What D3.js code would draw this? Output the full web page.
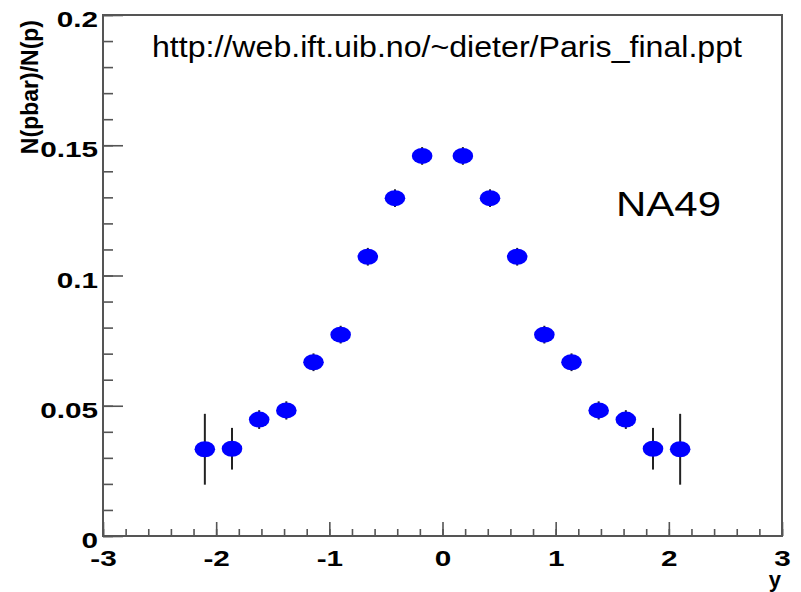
<!DOCTYPE html>
<html>
<head>
<meta charset="utf-8">
<script src="https://cdn.jsdelivr.net/npm/d3@7/dist/d3.min.js"></script>
<style>
  html, body { margin: 0; padding: 0; background: #fff; }
  svg { display: block; }
  text { font-family: "Liberation Sans", Arial, Helvetica, sans-serif; }
</style>
</head>
<body>
<svg id="chart" width="801" height="592"></svg>
<script>
// Antiproton / proton ratio versus rapidity (NA49)
const rapidity = [-2.10, -1.86, -1.62, -1.38, -1.14, -0.90, -0.66, -0.42, -0.18,
                   0.18,  0.42,  0.66,  0.90,  1.14,  1.38,  1.62,  1.86,  2.10];
const ratio    = [0.0333, 0.0335, 0.0447, 0.0482, 0.0667, 0.0773, 0.1072, 0.1297, 0.1459,
                  0.1459, 0.1297, 0.1072, 0.0773, 0.0667, 0.0482, 0.0447, 0.0335, 0.0333];
const ratioErr = [0.0136, 0.0080, 0.0036, 0.0035, 0.0034, 0.0034, 0.0034, 0.0034, 0.0034,
                  0.0034, 0.0034, 0.0034, 0.0034, 0.0034, 0.0035, 0.0036, 0.0080, 0.0136];

const xMajorTicks = [-3, -2, -1, 0, 1, 2, 3];
const yMajorTicks = [0, 0.05, 0.1, 0.15, 0.2];
const yTickLabels = ["0", "0.05", "0.1", "0.15", "0.2"];
const xTickLabels = ["-3", "-2", "-1", "0", "1", "2", "3"];

const frame = { left: 103, right: 782, top: 15, bottom: 536 };
const wide = 1.35; // horizontal stretch of the tick labels

const svg = d3.select("#chart");
const x = d3.scaleLinear().domain([-3, 3]).range([frame.left, frame.right]);
const y = d3.scaleLinear().domain([0, 0.2]).range([frame.bottom, frame.top]);

const axisColor = "#555";

// Minor ticks
const xMinor = d3.range(-3, 3.0001, 0.2).map(v => +v.toFixed(2));
const yMinor = d3.range(0, 0.2001, 0.01).map(v => +v.toFixed(3));

svg.append("g")
  .attr("transform", `translate(0,${frame.bottom})`)
  .call(d3.axisBottom(x).tickValues(xMinor).tickSizeInner(-7).tickSizeOuter(0).tickFormat(""))
  .call(g => g.select(".domain").remove())
  .call(g => g.selectAll("line").attr("stroke", axisColor).attr("stroke-width", 1.6));

svg.append("g")
  .attr("transform", `translate(${frame.left},0)`)
  .call(d3.axisLeft(y).tickValues(yMinor).tickSizeInner(-10).tickSizeOuter(0).tickFormat(""))
  .call(g => g.select(".domain").remove())
  .call(g => g.selectAll("line").attr("stroke", axisColor).attr("stroke-width", 1.6));

// Major ticks with labels
svg.append("g")
  .attr("transform", `translate(0,${frame.bottom})`)
  .call(d3.axisBottom(x).tickValues(xMajorTicks).tickSizeInner(-14).tickSizeOuter(0)
        .tickFormat((d, i) => xTickLabels[i]))
  .call(g => g.select(".domain").remove())
  .call(g => g.selectAll("line").attr("stroke", axisColor).attr("stroke-width", 1.6))
  .call(g => g.selectAll("text")
      .attr("y", 30.5).attr("dy", null).attr("x", 0)
      .attr("fill", "#000")
      .style("font-size", "22px").style("font-weight", "bold")
      .attr("transform", `scale(${wide},1)`));

svg.append("g")
  .attr("transform", `translate(${frame.left},0)`)
  .call(d3.axisLeft(y).tickValues(yMajorTicks).tickSizeInner(-20).tickSizeOuter(0)
        .tickFormat((d, i) => yTickLabels[i]))
  .call(g => g.select(".domain").remove())
  .call(g => g.selectAll("line").attr("stroke", axisColor).attr("stroke-width", 1.6))
  .call(g => g.selectAll("text")
      .attr("x", -5 / wide).attr("y", 11.5).attr("dy", null)
      .attr("fill", "#000")
      .style("font-size", "22px").style("font-weight", "bold")
      .attr("transform", `scale(${wide},1)`));

// Frame
svg.append("rect")
  .attr("x", frame.left).attr("y", frame.top)
  .attr("width", frame.right - frame.left).attr("height", frame.bottom - frame.top)
  .attr("fill", "none").attr("stroke", axisColor).attr("stroke-width", 2);

// Error bars
const pts = rapidity.map((r, i) => ({ r, v: ratio[i], e: ratioErr[i] }));
svg.append("g").selectAll("line").data(pts).join("line")
  .attr("x1", d => x(d.r)).attr("x2", d => x(d.r))
  .attr("y1", d => y(d.v + d.e)).attr("y2", d => y(d.v - d.e))
  .attr("stroke", "#222").attr("stroke-width", 2);

// Markers
svg.append("g").selectAll("ellipse").data(pts).join("ellipse")
  .attr("cx", d => x(d.r)).attr("cy", d => y(d.v))
  .attr("rx", 10.3).attr("ry", 8)
  .attr("fill", "#0000ff");

// Axis titles
svg.append("text")
  .attr("transform", "translate(38,20) rotate(-90)")
  .attr("text-anchor", "end")
  .style("font-size", "23px").style("font-weight", "bold")
  .text("N(pbar)/N(p)");

svg.append("text")
  .attr("x", 781).attr("y", 587)
  .attr("text-anchor", "end")
  .style("font-size", "22px").style("font-weight", "bold")
  .text("y");

// Annotations
svg.append("text")
  .attr("x", 152).attr("y", 57)
  .attr("textLength", 590).attr("lengthAdjust", "spacingAndGlyphs")
  .style("font-size", "29px")
  .text("http://web.ift.uib.no/~dieter/Paris_final.ppt");

svg.append("text")
  .attr("x", 616).attr("y", 216)
  .attr("textLength", 105).attr("lengthAdjust", "spacingAndGlyphs")
  .style("font-size", "35px")
  .text("NA49");
</script>
</body>
</html>
